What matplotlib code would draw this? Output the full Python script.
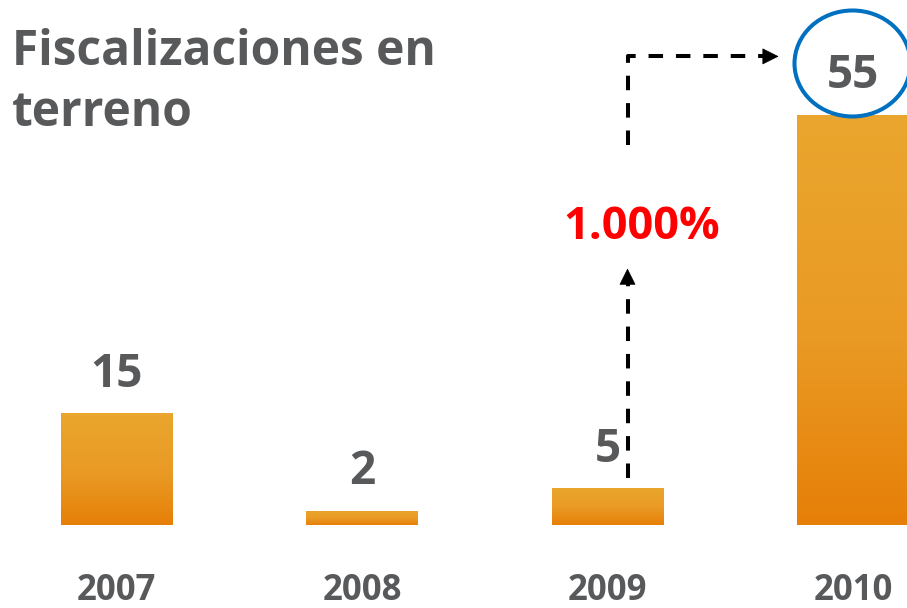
import matplotlib
matplotlib.use('Agg')
import matplotlib.pyplot as plt
import numpy as np
from matplotlib.colors import LinearSegmentedColormap
from matplotlib.patches import Ellipse

# ---- data ----
years = ['2007', '2008', '2009', '2010']
values = [15, 2, 5, 55]
title_lines = ['Fiscalizaciones en', 'terreno']
growth_label = '1.000%'

# ---- style ----
W, H, DPI = 907, 608, 100
GRAY = '#58595B'
FONT = 'Open Sans'
plt.rcParams['font.family'] = [FONT, 'DejaVu Sans']

fig = plt.figure(figsize=(W / DPI, H / DPI), dpi=DPI)
ax = fig.add_axes([0, 0, 1, 1])
ax.set_axis_off()

px_per_x = 245.5
x0_px = 116.5
base_px = 525.5
px_per_y = 7.47

x = np.arange(len(years))
bar_w = 112 / px_per_x

cmap = LinearSegmentedColormap.from_list(
    'og', [(0.0, '#E67F08'), (0.45, '#E99A24'), (1.0, '#EAA62E')])
grad = np.linspace(0, 1, 256).reshape(-1, 1)

bars = ax.bar(x, values, width=bar_w, color='none', edgecolor='none', zorder=2)
for b in bars:
    im = ax.imshow(grad, extent=[b.get_x(), b.get_x() + b.get_width(), 0, b.get_height()],
                   cmap=cmap, aspect='auto', origin='lower', zorder=2, interpolation='bicubic')
    im.set_clip_path(b)

ax.set_xlim(-x0_px / px_per_x, (W - x0_px) / px_per_x)
ax.set_ylim(-(H - base_px) / px_per_y, base_px / px_per_y)

# value labels
for xi, v in zip(x, values):
    ax.annotate(str(v), xy=(xi, v), xytext=(0, 19), textcoords='offset points',
                ha='center', va='baseline', fontsize=33, fontweight='bold', color=GRAY, zorder=4)

# year labels
for xi, yr in zip(x, years):
    ax.annotate(yr, xy=(xi, 0), xytext=(0, -54), textcoords='offset points',
                ha='center', va='baseline', fontsize=25, fontweight='bold', color=GRAY)

# title
for line, base_y in zip(title_lines, [65, 126]):
    fig.text(12 / W, 1 - base_y / H, line, fontsize=34.5, fontweight='bold', color=GRAY,
             ha='left', va='baseline')

# arrows
lw = 2.9
dash = (0, (3.6, 3.2))
xa = x[2] + 20 / px_per_x
# first arrow from 2009 bar up to label
y_start = values[2] + 1.3
y_head_base = 32.4
y_tip = 34.4
ax.plot([xa, xa], [y_start, y_head_base], color='black', lw=lw, linestyle=dash,
        solid_capstyle='butt', dash_capstyle='butt', zorder=3)
ax.annotate('', xy=(xa, y_tip), xytext=(xa, y_head_base - 0.3),
            arrowprops=dict(arrowstyle='-|>', color='black', lw=0.5, mutation_scale=27,
                            shrinkA=0, shrinkB=0))
ax.text(xa + 14 / px_per_x, 38.4, growth_label, ha='center', va='baseline',
        fontsize=32.5, fontweight='bold', color='#FF0000')

# second: up then right to the 2010 label
y_top = 62.8
x_head_base = 2.635
x_tip = 2.697
ax.plot([xa, xa, x_head_base], [50.9, y_top, y_top], color='black', lw=lw, linestyle=dash,
        dash_capstyle='butt', zorder=3)
ax.annotate('', xy=(x_tip, y_top), xytext=(x_head_base - 0.005, y_top),
            arrowprops=dict(arrowstyle='-|>', color='black', lw=0.5, mutation_scale=27,
                            shrinkA=0, shrinkB=0))

# circle around the 2010 value
circ = Ellipse((x[3] - 0.5 / px_per_x, values[3] + 6.85), width=116 / px_per_x,
               height=106 / px_per_y, fill=False, edgecolor='#0070C0', lw=2.9, zorder=5,
               clip_on=False)
ax.add_patch(circ)

fig.savefig('out.png', dpi=DPI, facecolor='white')
